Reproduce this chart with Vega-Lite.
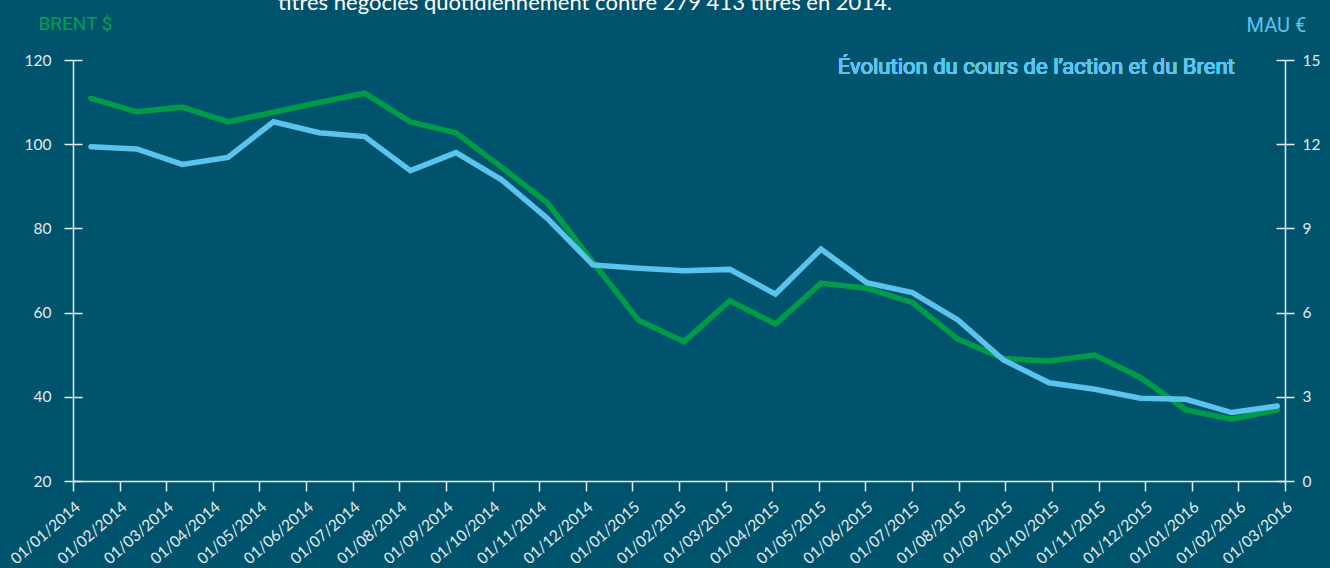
{
  "$schema": "https://vega.github.io/schema/vega-lite/v6.json",
  "width": 1212,
  "height": 421,
  "autosize": {"type": "none"},
  "padding": {"left": 73, "top": 60, "right": 45, "bottom": 87},
  "background": "#00536C",
  "config": {"view": {"stroke": null}, "font": "Lato"},
  "title": {
    "text": "titres négociés quotidiennement contre 279 413 titres en 2014.",
    "anchor": "start",
    "frame": "group",
    "dx": 205,
    "dy": 0.5,
    "offset": 0,
    "color": "#ffffff",
    "font": "Lato",
    "fontSize": 22,
    "fontWeight": "normal"
  },
  "data": {
    "values": [
      {"i": 0, "month": "2014-01", "brent": 110.9, "mau": 11.91},
      {"i": 1, "month": "2014-02", "brent": 107.7, "mau": 11.83},
      {"i": 2, "month": "2014-03", "brent": 108.8, "mau": 11.28},
      {"i": 3, "month": "2014-04", "brent": 105.3, "mau": 11.53},
      {"i": 4, "month": "2014-05", "brent": 107.6, "mau": 12.8},
      {"i": 5, "month": "2014-06", "brent": 109.9, "mau": 12.41},
      {"i": 6, "month": "2014-07", "brent": 112.1, "mau": 12.27},
      {"i": 7, "month": "2014-08", "brent": 105.3, "mau": 11.06},
      {"i": 8, "month": "2014-09", "brent": 102.7, "mau": 11.7},
      {"i": 9, "month": "2014-10", "brent": 94.5, "mau": 10.73},
      {"i": 10, "month": "2014-11", "brent": 86.1, "mau": 9.36},
      {"i": 11, "month": "2014-12", "brent": 72.0, "mau": 7.7},
      {"i": 12, "month": "2015-01", "brent": 58.2, "mau": 7.58},
      {"i": 13, "month": "2015-02", "brent": 53.1, "mau": 7.49},
      {"i": 14, "month": "2015-03", "brent": 62.8, "mau": 7.54},
      {"i": 15, "month": "2015-04", "brent": 57.3, "mau": 6.66},
      {"i": 16, "month": "2015-05", "brent": 67.0, "mau": 8.26},
      {"i": 17, "month": "2015-06", "brent": 65.8, "mau": 7.07},
      {"i": 18, "month": "2015-07", "brent": 62.4, "mau": 6.71},
      {"i": 19, "month": "2015-08", "brent": 53.7, "mau": 5.74},
      {"i": 20, "month": "2015-09", "brent": 49.1, "mau": 4.31},
      {"i": 21, "month": "2015-10", "brent": 48.5, "mau": 3.5},
      {"i": 22, "month": "2015-11", "brent": 49.9, "mau": 3.27},
      {"i": 23, "month": "2015-12", "brent": 44.6, "mau": 2.95},
      {"i": 24, "month": "2016-01", "brent": 36.9, "mau": 2.91},
      {"i": 25, "month": "2016-02", "brent": 34.7, "mau": 2.44},
      {"i": 26, "month": "2016-03", "brent": 36.9, "mau": 2.67}
    ]
  },
  "layer": [
    {
      "mark": {"type": "rule", "strokeOpacity": 0},
      "encoding": {
        "x": {
          "field": "i",
          "type": "quantitative",
          "scale": {"domain": [0, 26], "nice": false, "zero": false},
          "axis": {
            "orient": "bottom",
            "title": null,
            "values": [0,1,2,3,4,5,6,7,8,9,10,11,12,13,14,15,16,17,18,19,20,21,22,23,24,25,26],
            "labelExpr": "'01/' + (datum.value % 12 < 9 ? '0' : '') + (datum.value % 12 + 1) + '/' + (2014 + floor(datum.value / 12))",
            "labelAngle": -41,
            "labelAlign": "right",
            "labelBaseline": "top",
            "labelOverlap": false,
            "labelFlush": false,
            "labelBound": false,
            "labelPadding": 8,
            "labelFont": "Lato",
            "labelFontSize": 15.5,
            "labelColor": "#e2eaee",
            "domainColor": "#e6edf0",
            "domainWidth": 1.5,
            "tickColor": "#e6edf0",
            "tickWidth": 1.5,
            "tickSize": 10,
            "grid": false
          }
        }
      }
    },
    {
      "mark": {"type": "line", "color": "#009B47", "strokeWidth": 5.5, "strokeCap": "round"},
      "encoding": {
        "x": {"field": "i", "type": "quantitative", "scale": {"domain": [-0.395, 26.17], "nice": false, "zero": false}, "axis": null},
        "y": {
          "field": "brent",
          "type": "quantitative",
          "scale": {"domain": [20, 120], "nice": false, "zero": false},
          "axis": {
            "orient": "left",
            "title": "BRENT $",
            "titleAngle": 0,
            "titleAlign": "left",
            "titleBaseline": "alphabetic",
            "titleX": -35,
            "titleY": -31,
            "titleColor": "#00A04A",
            "titleFont": "Roboto",
            "titleFontSize": 19,
            "titleFontWeight": "normal",
            "values": [20, 40, 60, 80, 100, 120],
            "labelFont": "Lato",
            "labelFontSize": 15.5,
            "labelColor": "#e2eaee",
            "labelPadding": 13,
            "domainColor": "#e6edf0",
            "domainWidth": 1.5,
            "tickColor": "#e6edf0",
            "tickWidth": 1.5,
            "tickSize": 9,
            "grid": true,
            "gridColor": "#e6edf0",
            "gridWidth": 1.5,
            "gridDash": [9, 3000]
          }
        }
      }
    },
    {
      "encoding": {
        "x": {"field": "i", "type": "quantitative", "scale": {"domain": [-0.395, 26.17], "nice": false, "zero": false}, "axis": null},
        "y": {
          "field": "mau",
          "type": "quantitative",
          "scale": {"domain": [0, 15], "nice": false, "zero": false},
          "axis": {
            "orient": "right",
            "title": "MAU €",
            "titleAngle": 0,
            "titleAlign": "left",
            "titleBaseline": "alphabetic",
            "titleX": -39,
            "titleY": -29,
            "titleColor": "#5BC4EE",
            "titleFont": "Roboto",
            "titleFontSize": 20,
            "titleFontWeight": "normal",
            "values": [0, 3, 6, 9, 12, 15],
            "labelFont": "Lato",
            "labelFontSize": 15.5,
            "labelColor": "#e2eaee",
            "labelPadding": 8,
            "domainColor": "#e6edf0",
            "domainWidth": 1.5,
            "tickColor": "#e6edf0",
            "tickWidth": 1.5,
            "tickSize": 9,
            "grid": true,
            "gridColor": "#e6edf0",
            "gridWidth": 1.5,
            "gridDash": [9, 3000]
          }
        }
      },
      "layer": [
        {"mark": {"type": "line", "color": "#5BC4EE", "strokeWidth": 5.5, "strokeCap": "round"}},
        {
          "mark": {
            "type": "text",
            "text": "Évolution du cours de l’action et du Brent",
            "align": "right",
            "baseline": "alphabetic",
            "font": "Roboto",
            "fontSize": 22,
            "fontWeight": "normal",
            "color": "#5BC4EE"
          },
          "encoding": {
            "x": {"datum": 25.07},
            "y": {"datum": 14.5}
          }
        }
      ]
    }
  ],
  "resolve": {
    "scale": {"x": "independent", "y": "independent"},
    "axis": {"x": "independent", "y": "independent"}
  }
}
